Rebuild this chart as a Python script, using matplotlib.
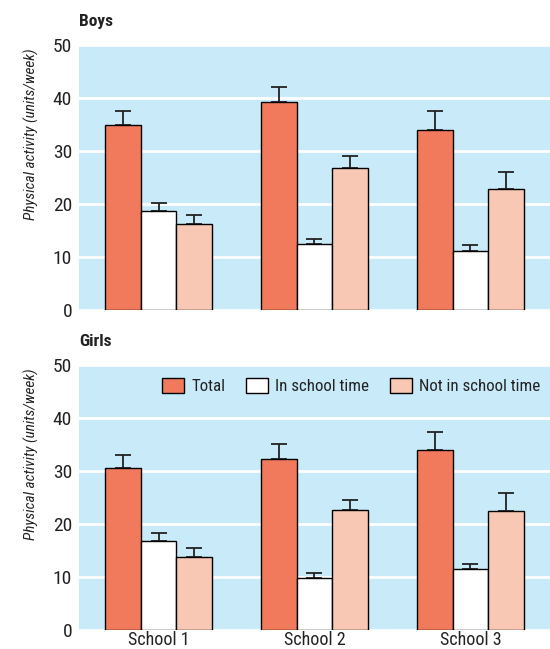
import numpy as np
import matplotlib.pyplot as plt

schools = ['School 1', 'School 2', 'School 3']
series = ['Total', 'In school time', 'Not in school time']
colors = ['#f27a5c', '#ffffff', '#f9c8b4']

# boys: means and upper error bar ends
boys_mean = [[35.0, 39.3, 34.0],
             [18.7, 12.5, 11.1],
             [16.2, 26.8, 22.9]]
boys_upper = [[37.5, 42.1, 37.5],
              [20.2, 13.4, 12.2],
              [18.0, 29.0, 26.1]]

# girls
girls_mean = [[30.5, 32.2, 33.9],
              [16.8, 9.9, 11.6],
              [13.7, 22.6, 22.5]]
girls_upper = [[33.0, 35.0, 37.4],
               [18.3, 10.7, 12.5],
               [15.4, 24.6, 25.8]]

plt.rcParams['font.family'] = ['Roboto Condensed', 'Liberation Sans', 'DejaVu Sans']
plt.rcParams['text.color'] = '#222222'

fig = plt.figure(figsize=(5.5, 6.49), dpi=100)
ax_b = fig.add_axes([0.1436, 0.5223, 0.8564, 0.4083])
ax_g = fig.add_axes([0.1436, 0.0293, 0.8564, 0.4083])

x = np.arange(len(schools))
w = 0.228


def draw(ax, means, uppers, title, show_x):
    ax.set_facecolor('#c9eaf9')
    for i in range(3):
        m = np.array(means[i])
        up = np.array(uppers[i]) - m
        pos = x + (i - 1) * w
        ax.bar(pos, m, w, color=colors[i], edgecolor='black', linewidth=1.0,
               label=series[i], zorder=3)
        ax.errorbar(pos, m, yerr=[np.zeros(3), up], fmt='none', ecolor='#222222',
                    elinewidth=1.3, capsize=6, capthick=1.3, zorder=2)
    ax.set_ylim(0, 50)
    ax.set_xlim(-0.51, 2.51)
    ax.set_yticks([0, 10, 20, 30, 40, 50])
    ax.yaxis.grid(True, color='white', linewidth=2, zorder=1)
    ax.set_axisbelow(True)
    for s in ax.spines.values():
        s.set_visible(False)
    ax.tick_params(axis='y', length=0, labelsize=14, pad=5, labelcolor='#222222')
    ax.tick_params(axis='x', length=0, labelsize=13, pad=1, labelcolor='#222222')
    ax.set_xticks(x)
    if show_x:
        ax.set_xticklabels(schools)
    else:
        ax.set_xticklabels([])
    ax.set_ylabel('Physical activity (units/week)', fontsize=11, style='italic',
                  color='#222222')
    ax.yaxis.set_label_coords(-0.085, 0.665)
    ax.text(0.0, 1.06, title, transform=ax.transAxes, fontsize=12.5,
            fontweight='bold', ha='left', va='bottom')


draw(ax_b, boys_mean, boys_upper, 'Boys', False)
draw(ax_g, girls_mean, girls_upper, 'Girls', True)

ax_g.legend(loc='center right', bbox_to_anchor=(0.98, 0.92), ncol=3, frameon=False,
            fontsize=12.2, handlelength=1.3, handleheight=1.0, columnspacing=1.2,
            handletextpad=0.45, borderaxespad=0, borderpad=0)

fig.savefig('out.png', dpi=100)
